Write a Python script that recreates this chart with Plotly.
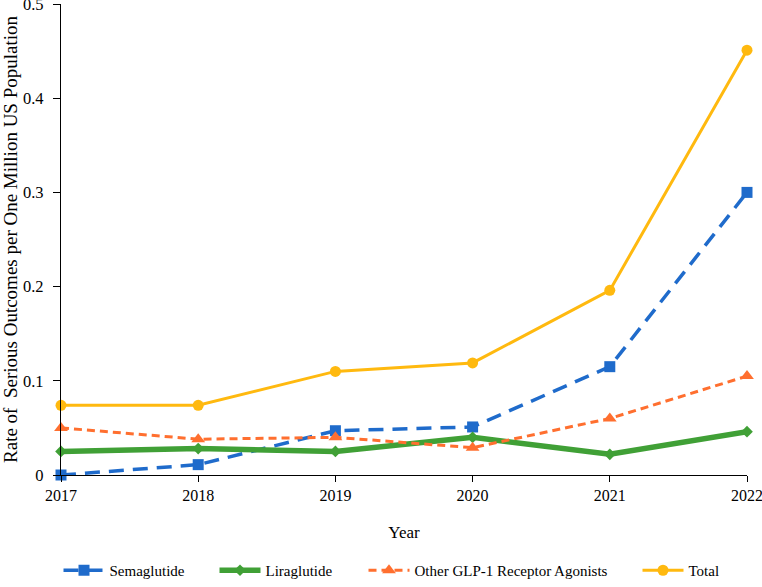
import plotly.graph_objects as go

years = [2017, 2018, 2019, 2020, 2021, 2022]
semaglutide = [0.000, 0.011, 0.047, 0.051, 0.115, 0.300]
liraglutide = [0.025, 0.028, 0.025, 0.040, 0.022, 0.046]
other_glp1 = [0.050, 0.038, 0.040, 0.029, 0.060, 0.105]
total = [0.074, 0.074, 0.110, 0.119, 0.196, 0.451]

y_ticks = [0, 0.1, 0.2, 0.3, 0.4, 0.5]
y_tick_text = ["0", "0.1", "0.2", "0.3", "0.4", "0.5"]

font_family = "Liberation Serif"
W, H = 762, 587

fig = go.Figure()
fig.add_trace(go.Scatter(
    x=years, y=semaglutide, name="Semaglutide", mode="lines+markers",
    line=dict(color="#1F6BCB", width=3.5, dash="15px,9px"),
    marker=dict(symbol="square", size=11, color="#1F6BCB"),
    cliponaxis=False, legend="legend"))
fig.add_trace(go.Scatter(
    x=years, y=liraglutide, name="Liraglutide", mode="lines+markers",
    line=dict(color="#40A036", width=5.5),
    marker=dict(symbol="diamond", size=9, color="#40A036"),
    cliponaxis=False, legend="legend2"))
fig.add_trace(go.Scatter(
    x=years, y=other_glp1, name="Other GLP-1 Receptor Agonists", mode="lines+markers",
    line=dict(color="#FF6F2F", width=3, dash="8px,5px"),
    marker=dict(symbol="triangle-up", size=12, color="#FF6F2F"),
    cliponaxis=False, legend="legend3"))
fig.add_trace(go.Scatter(
    x=years, y=total, name="Total", mode="lines+markers",
    line=dict(color="#FFB90F", width=3),
    marker=dict(symbol="circle", size=11, color="#FFB90F"),
    cliponaxis=False, legend="legend4"))


def leg(px):
    return dict(orientation="h", xref="container", yref="container",
                x=px / W, xanchor="left", y=0.0, yanchor="bottom",
                font=dict(family=font_family, size=15, color="black"),
                itemwidth=41, bgcolor="rgba(0,0,0,0)")


fig.update_layout(
    width=W, height=H,
    margin=dict(l=61, r=15, t=4, b=112, autoexpand=False),
    paper_bgcolor="white", plot_bgcolor="white",
    font=dict(family=font_family, size=16, color="black"),
    showlegend=True,
    legend=leg(58.5), legend2=leg(214.5), legend3=leg(363.5), legend4=leg(637.5),
    xaxis=dict(range=[2017, 2022], tickmode="array", tickvals=years,
               ticktext=[str(y) for y in years], ticklabeloverflow="allow",
               showline=True, linecolor="black", linewidth=1.3,
               ticks="outside", ticklen=6, tickwidth=1.3, tickcolor="black",
               showgrid=False, zeroline=False,
               tickfont=dict(family=font_family, size=16),
               title=dict(text="Year", standoff=22, font=dict(family=font_family, size=17))),
    yaxis=dict(range=[0, 0.5], tickmode="array", tickvals=y_ticks,
               ticktext=y_tick_text, ticklabeloverflow="allow",
               showline=True, linecolor="black", linewidth=1.3,
               ticks="outside", ticklen=7, tickwidth=1.3, tickcolor="black",
               ticklabelstandoff=6,
               showgrid=False, zeroline=False,
               tickfont=dict(family=font_family, size=16.5),
               title=dict(text="Rate of  Serious Outcomes per One Million US Population",
                          standoff=5, font=dict(family=font_family, size=19))),
)

fig.write_html("out.html", config={"displayModeBar": False},
               post_script="document.body.style.margin='0';document.body.style.overflow='hidden';")
